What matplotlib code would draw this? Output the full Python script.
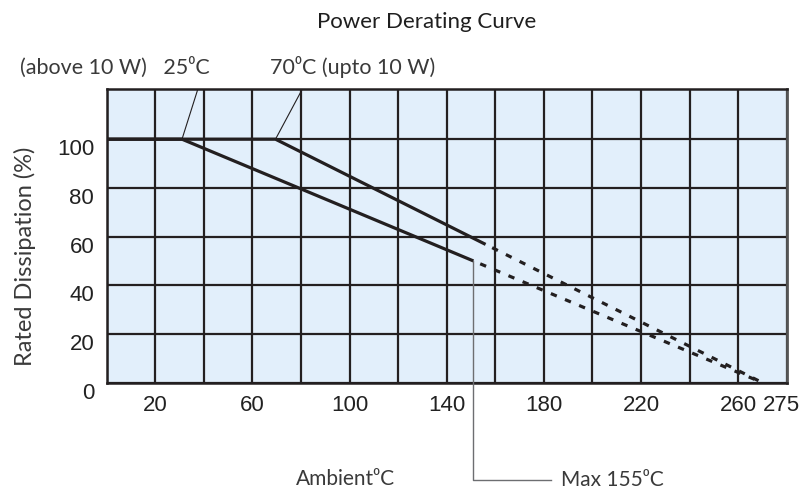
import matplotlib
matplotlib.use('Agg')
import matplotlib.pyplot as plt
import matplotlib.transforms as mtransforms
from matplotlib.ticker import MultipleLocator
import numpy as np

# データ
temp_above = [0, 31, 151]          # 10 W 超（25°C 起点）の実線部
dissip_above = [100, 100, 50]
temp_above_ext = [151, 270]        # 破線部
dissip_above_ext = [50, 0]

temp_upto = [0, 69.5, 156]         # 10 W 以下（70°C 起点）の実線部
dissip_upto = [100, 100, 56.8]
temp_upto_ext = [156, 270]
dissip_upto_ext = [56.8, 0]

x_tick_pos = [20, 60, 100, 140, 180, 220, 260, 278]
x_tick_labels = ['20', '60', '100', '140', '180', '220', '260', '275']
y_ticks = [0, 20, 40, 60, 80, 100]

narrow = ['Liberation Sans Narrow', 'Liberation Sans', 'DejaVu Sans']
humanist = ['Lato', 'DejaVu Sans']
ink = '#231f20'

fig = plt.figure(figsize=(8.06, 4.9), dpi=100)
ax = fig.add_axes([0.1324, 0.219, 0.8437, 0.5988])
ax.set_facecolor('#e2effb')
ax.set_xlim(0, 280)
ax.set_ylim(0, 120.5)

# グリッド（20 刻み）
ax.xaxis.set_minor_locator(MultipleLocator(20))
ax.xaxis.remove_overlapping_locs = False
ax.set_xticks(x_tick_pos)
ax.set_xticklabels(x_tick_labels)
ax.set_yticks(y_ticks)
ax.set_axisbelow(True)
ax.grid(True, which='minor', axis='x', color=ink, lw=1.6)
ax.grid(True, which='major', axis='y', color=ink, lw=1.6)
ax.tick_params(which='both', length=0)
ax.tick_params(axis='x', pad=9)
ax.tick_params(axis='y', pad=9)
for lab in ax.get_xticklabels() + ax.get_yticklabels():
    lab.set_fontfamily(narrow)
    lab.set_fontsize(16)
    lab.set_color('#222222')
# y 目盛りラベルは少し下にずらす
off = mtransforms.ScaledTranslation(0, -8 / 100, fig.dpi_scale_trans)
for lab in ax.get_yticklabels():
    lab.set_transform(lab.get_transform() + off)

for side in ['left', 'bottom', 'top']:
    ax.spines[side].set_color(ink)
    ax.spines[side].set_linewidth(1.8)
ax.spines['right'].set_color('#555555')
ax.spines['right'].set_linewidth(2)

# 曲線
ax.plot(temp_above, dissip_above, color=ink, lw=2.3, solid_capstyle='butt', zorder=3)
ax.plot(temp_upto, dissip_upto, color=ink, lw=2.3, solid_capstyle='butt', zorder=3)
ax.plot(temp_above_ext, dissip_above_ext, color=ink, lw=2.3,
        linestyle=(2.5, (2.0, 2.8)), zorder=3)
ax.plot(temp_upto_ext, dissip_upto_ext, color=ink, lw=2.3,
        linestyle=(2.5, (2.0, 2.8)), zorder=3)

# 引き出し線
ax.plot([31, 37.5], [100, 120.5], color=ink, lw=0.8, zorder=3)
ax.plot([69.5, 80.5], [100, 120.5], color=ink, lw=0.8, zorder=3)
ax.plot([151, 151, 183], [50, -40, -40], color='#6d6e71', lw=1.0,
        clip_on=False, zorder=3)

txt = dict(family=humanist, color='#3a3a3a')
ax.text(-35.7, 129.7, '(above 10 W)   25\u2070C', ha='left', va='center',
        clip_on=False, fontsize=15.5, **txt)
ax.text(67.2, 129.7, '70\u2070C (upto 10 W)', ha='left', va='center',
        clip_on=False, fontsize=15.5, **txt)
ax.text(187, -40, 'Max 155\u2070C', ha='left', va='center', clip_on=False,
        fontsize=15, **txt)

fig.text(346 / 806, 1 - 479 / 490, 'Ambient\u2070C', ha='center', va='center',
         fontsize=15, **txt)
fig.text(25 / 806, 1 - 256 / 490, 'Rated Dissipation (%)', ha='center', va='center',
         rotation=90, fontsize=17, **txt)
fig.text(427 / 806, 1 - 22 / 490, 'Power Derating Curve', ha='center', va='center',
         family=humanist, fontsize=16, color='#1e1e1e')

fig.savefig('out.png', dpi=100)
